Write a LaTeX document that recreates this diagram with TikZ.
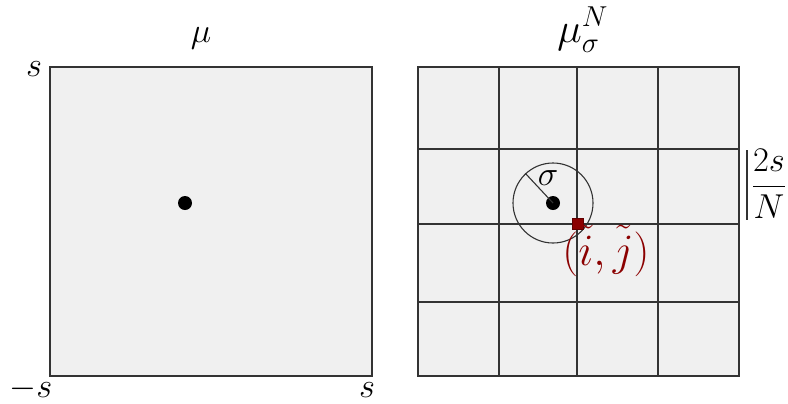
\documentclass[tikz,border=0pt]{standalone}
\usepackage{xcolor}
\definecolor{boxfill}{HTML}{F0F0F0}
\definecolor{gridline}{HTML}{333333}
\definecolor{darkred}{HTML}{8B0000}
\begin{document}
\begin{tikzpicture}[x=0.5pt,y=-0.5pt,
  frame/.style={draw=gridline,line width=0.7pt,fill=boxfill},
  gline/.style={draw=gridline,line width=0.7pt},
  lbl/.style={inner sep=0pt,font=\fontsize{18.5}{22}\selectfont},
  dot/.style={circle,fill=black,inner sep=0pt,minimum size=7pt}]
\useasboundingbox (0,0) rectangle (788,403);
% left square
\draw[frame] (50,67) rectangle (372,376);
\node[dot] (d1) at (185,203) {};
\node[lbl,anchor=base] (mu) at (201,42) {$\mu$};
\node[lbl,anchor=base] (stop) at (34,76) {$s$};
\node[lbl,anchor=base] (smin) at (31,397) {$-s$};
\node[lbl,anchor=base] (sright) at (367,397) {$s$};
% right grid
\draw[frame] (418,67) rectangle (739,376);
\foreach \xx in {499,577,658} \draw[gline] (\xx,67) -- (\xx,376);
\foreach \yy in {149,224,302} \draw[gline] (418,\yy) -- (739,\yy);
\node[lbl,anchor=base,font=\fontsize{21}{25}\selectfont] (muN) at (583,42) {$\mu_\sigma^N$};
\node[dot] (d2) at (553,203) {};
\node[circle,draw=gridline,line width=0.55pt,minimum size=40pt,inner sep=0pt] (circ) at (553,203) {};
\draw[gline,line width=0.55pt] (d2.center) -- (circ.133);
\node[lbl,anchor=base] (sig) at (548,185) {$\sigma$};
\node[fill=darkred,draw=darkred!70!black,line width=0.4pt,minimum size=5.5pt,inner sep=0pt] (ij) at (578,224) {};
\node[lbl,anchor=base,text=darkred,font=\fontsize{22.5}{26}\selectfont,scale=1.08,transform shape] (ijl) at (606,265) {$(\tilde{i},\tilde{j})$};
% spacing marker
\coordinate (b1) at (747,150);
\coordinate (b2) at (747,220);
\draw[gline,line width=0.6pt] (b1) -- (b2);
\node[lbl,font=\fontsize{17.5}{21}\selectfont] (frac) at (769,184) {$\displaystyle\frac{2s}{N}$};
\end{tikzpicture}
\end{document}
